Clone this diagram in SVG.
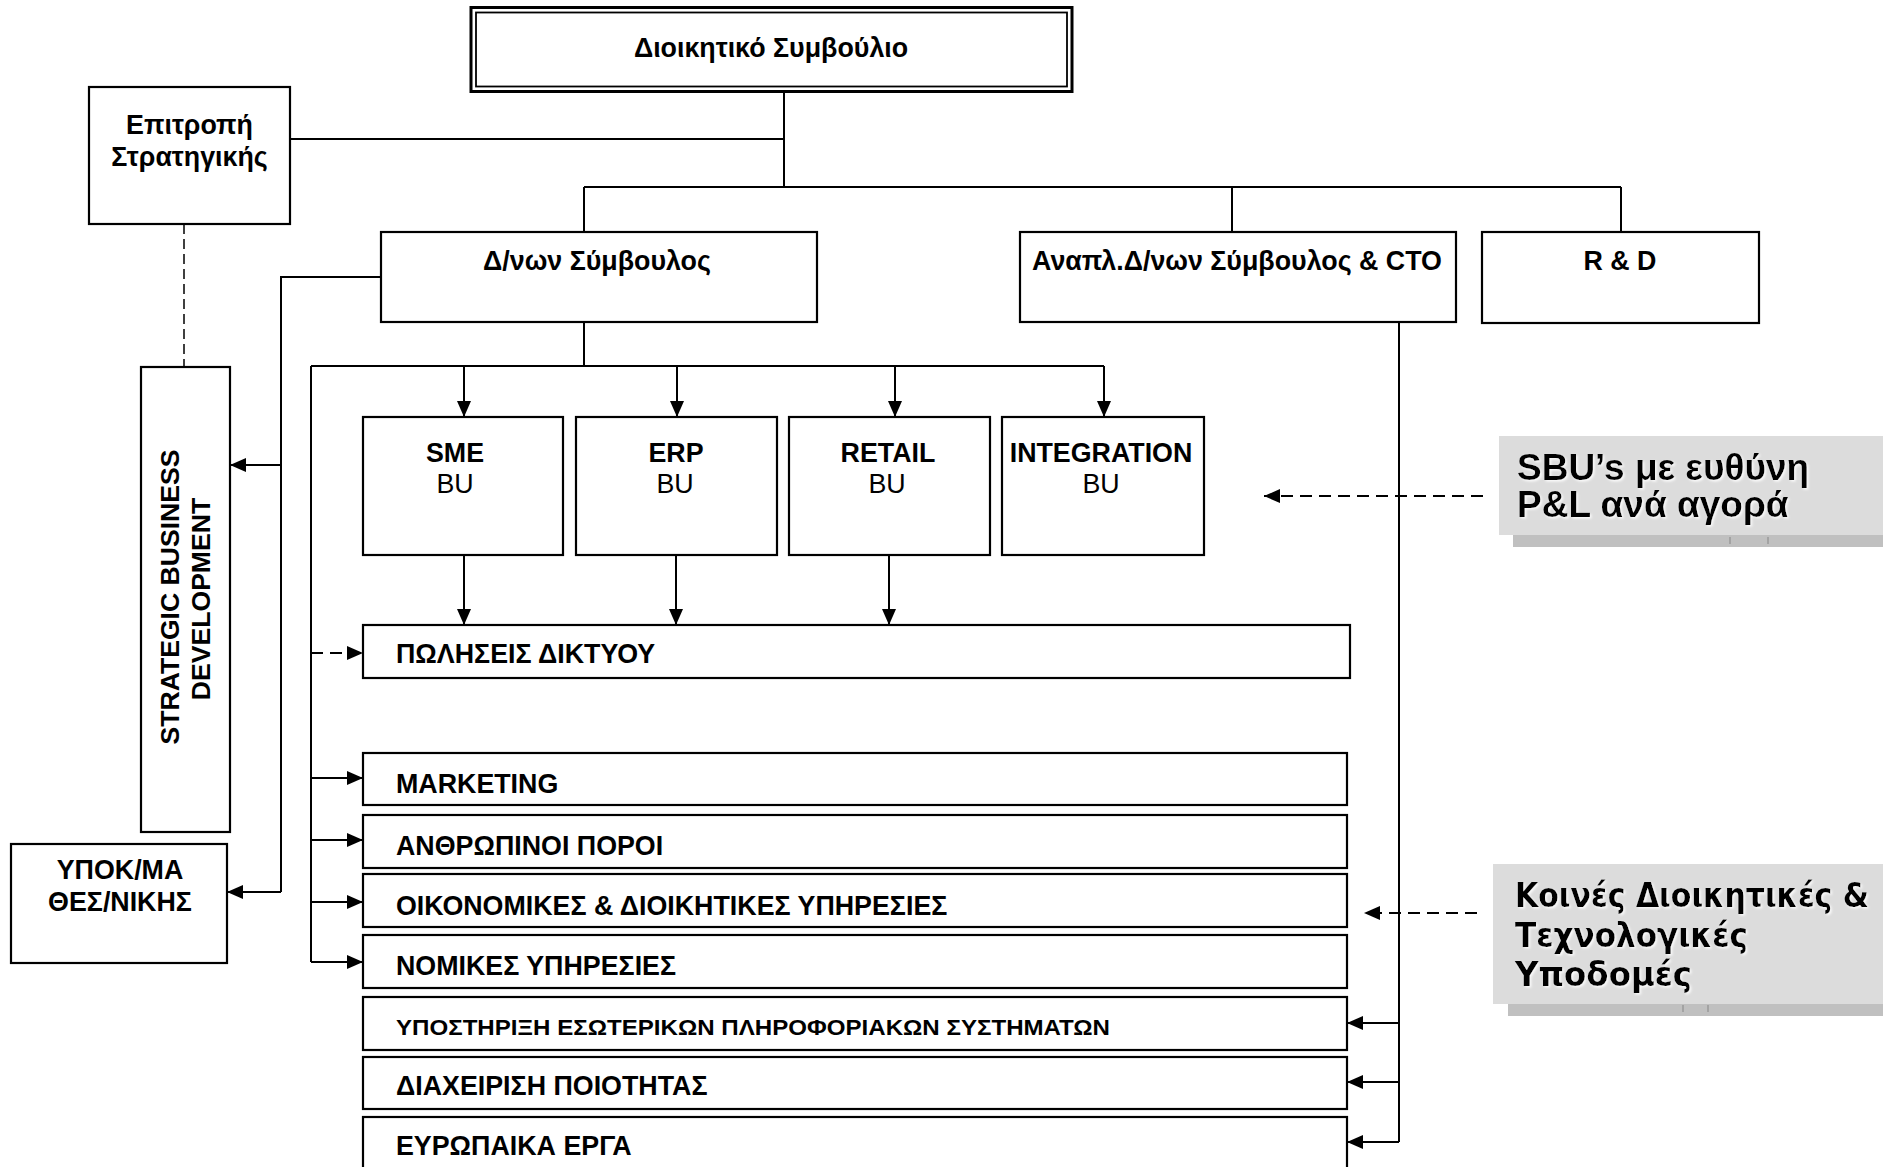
<svg xmlns="http://www.w3.org/2000/svg" width="1883" height="1167" viewBox="0 0 1883 1167">
<defs>
<marker id="ah" viewBox="0 0 16 14" refX="16" refY="7" markerWidth="16" markerHeight="14" markerUnits="userSpaceOnUse" orient="auto"><path d="M0,0 L16,7 L0,14 z" fill="#000"/></marker>
<filter id="glow" x="-5%" y="-20%" width="110%" height="140%"><feDropShadow dx="1.5" dy="1.5" stdDeviation="0.8" flood-color="#ffffff" flood-opacity="0.9"/></filter>
</defs>
<style>
.bx{fill:#fff;stroke:#000;stroke-width:2.2}
.t{font-family:"Liberation Sans",Arial,sans-serif;font-weight:bold;font-size:26.8px;fill:#000}
.n{font-weight:normal}
.m{text-anchor:middle}
.ln{fill:none;stroke:#000;stroke-width:2}
.ar{fill:none;stroke:#000;stroke-width:2;marker-end:url(#ah)}
.da{fill:none;stroke:#000;stroke-width:2;stroke-dasharray:12 7;marker-end:url(#ah)}
.co{fill:#dcdcdc}
.sh{fill:#c0c0c0}
.ct{font-family:"Liberation Sans",Arial,sans-serif;font-weight:bold;font-size:37px;fill:#000;filter:url(#glow)}
.ct2{font-family:"DejaVu Sans Condensed","DejaVu Sans",sans-serif;font-weight:bold;font-size:34px;fill:#000;filter:url(#glow)}
</style>
<rect width="1883" height="1167" fill="#fff"/>

<g id="connectors">
<path class="ln" d="M784,92 V187"/>
<path class="ln" d="M290,139 H784"/>
<path class="ln" d="M584,187 H1621"/>
<path class="ln" d="M584,187 V232"/>
<path class="ln" d="M1232,187 V232"/>
<path class="ln" d="M1621,187 V232"/>
<path class="ln" d="M184,224 V367" stroke-dasharray="10 5" style="stroke-width:1.5"/>
<path class="ln" d="M381,277 H281 V892"/>
<path class="ar" d="M281,465 H230"/>
<path class="ar" d="M281,892 H227"/>
<path class="ln" d="M584,322 V366"/>
<path class="ln" d="M311,366 H1104"/>
<path class="ar" d="M464,366 V417"/>
<path class="ar" d="M677,366 V417"/>
<path class="ar" d="M895,366 V417"/>
<path class="ar" d="M1104,366 V417"/>
<path class="ar" d="M464,555 V625"/>
<path class="ar" d="M676,555 V625"/>
<path class="ar" d="M889,555 V625"/>
<path class="ln" d="M311,366 V962"/>
<path class="da" d="M311,653 H363"/>
<path class="ar" d="M311,778 H363"/>
<path class="ar" d="M311,840 H363"/>
<path class="ar" d="M311,902 H363"/>
<path class="ar" d="M311,962 H363"/>
<path class="ln" d="M1399,322 V1142"/>
<path class="ar" d="M1399,1023 H1347"/>
<path class="ar" d="M1399,1082 H1347"/>
<path class="ar" d="M1399,1142 H1347"/>
<path class="da" d="M1483,496 H1264"/>
<path class="da" d="M1477,913 H1364"/>
</g>

<g id="board">
<rect x="471" y="7.5" width="601" height="84" fill="#fff" stroke="#000" stroke-width="3"/>
<rect x="476" y="12.5" width="591" height="74" fill="none" stroke="#000" stroke-width="1.8"/>
<text class="t m" x="771" y="57">Διοικητικό Συμβούλιο</text>
</g>

<g id="epitropi">
<rect class="bx" x="89" y="87" width="201" height="137"/>
<text class="t m" x="189.5" y="134">Επιτροπή</text>
<text class="t m" x="189.5" y="166">Στρατηγικής</text>
</g>

<g id="ceo">
<rect class="bx" x="381" y="232" width="436" height="90"/>
<text class="t m" x="597" y="270">Δ/νων Σύμβουλος</text>
</g>

<g id="deputy">
<rect class="bx" x="1020" y="232" width="436" height="90"/>
<text class="t m" x="1237" y="270">Αναπλ.Δ/νων Σύμβουλος &amp; CTO</text>
</g>

<g id="rnd">
<rect class="bx" x="1482" y="232" width="277" height="91"/>
<text class="t m" x="1620" y="270">R &amp; D</text>
</g>

<g id="sbd">
<rect class="bx" x="141" y="367" width="89" height="465"/>
<text class="t m" style="font-size:26.6px" transform="translate(179,597) rotate(-90)">STRATEGIC BUSINESS</text>
<text class="t m" style="font-size:26.6px" transform="translate(210,599) rotate(-90)">DEVELOPMENT</text>
</g>

<g id="ypok">
<rect class="bx" x="11" y="844" width="216" height="119"/>
<text class="t m" x="120" y="879">ΥΠΟΚ/ΜΑ</text>
<text class="t m" x="120" y="911">ΘΕΣ/ΝΙΚΗΣ</text>
</g>

<g id="sme">
<rect class="bx" x="363" y="417" width="200" height="138"/>
<text class="t m" x="455" y="462">SME</text>
<text class="t m n" x="455" y="493">BU</text>
</g>
<g id="erp">
<rect class="bx" x="576" y="417" width="201" height="138"/>
<text class="t m" x="676" y="462">ERP</text>
<text class="t m n" x="675" y="493">BU</text>
</g>
<g id="retail">
<rect class="bx" x="789" y="417" width="201" height="138"/>
<text class="t m" x="888" y="462">RETAIL</text>
<text class="t m n" x="887" y="493">BU</text>
</g>
<g id="integration">
<rect class="bx" x="1002" y="417" width="202" height="138"/>
<text class="t m" x="1101" y="462">INTEGRATION</text>
<text class="t m n" x="1101" y="493">BU</text>
</g>

<g id="sales">
<rect class="bx" x="363" y="625" width="987" height="53"/>
<text class="t" x="396" y="663">ΠΩΛΗΣΕΙΣ ΔΙΚΤΥΟΥ</text>
</g>
<g id="marketing">
<rect class="bx" x="363" y="753" width="984" height="52"/>
<text class="t" x="396" y="793">MARKETING</text>
</g>
<g id="hr">
<rect class="bx" x="363" y="815" width="984" height="53"/>
<text class="t" x="396" y="855">ΑΝΘΡΩΠΙΝΟΙ ΠΟΡΟΙ</text>
</g>
<g id="finance">
<rect class="bx" x="363" y="874" width="984" height="53"/>
<text class="t" x="396" y="915">ΟΙΚΟΝΟΜΙΚΕΣ &amp; ΔΙΟΙΚΗΤΙΚΕΣ ΥΠΗΡΕΣΙΕΣ</text>
</g>
<g id="legal">
<rect class="bx" x="363" y="935" width="984" height="53"/>
<text class="t" x="396" y="975">ΝΟΜΙΚΕΣ ΥΠΗΡΕΣΙΕΣ</text>
</g>
<g id="itsupport">
<rect class="bx" x="363" y="997" width="984" height="53"/>
<text class="t" style="font-size:22.5px" x="396" y="1035" textLength="714" lengthAdjust="spacingAndGlyphs">ΥΠΟΣΤΗΡΙΞΗ ΕΣΩΤΕΡΙΚΩΝ ΠΛΗΡΟΦΟΡΙΑΚΩΝ ΣΥΣΤΗΜΑΤΩΝ</text>
</g>
<g id="quality">
<rect class="bx" x="363" y="1057" width="984" height="52"/>
<text class="t" x="396" y="1095">ΔΙΑΧΕΙΡΙΣΗ ΠΟΙΟΤΗΤΑΣ</text>
</g>
<g id="eu">
<rect class="bx" x="363" y="1117" width="984" height="70"/>
<text class="t" x="396" y="1155">ΕΥΡΩΠΑΙΚΑ ΕΡΓΑ</text>
</g>

<g id="callout-sbu">
<rect class="sh" x="1513" y="450" width="380" height="97"/>
<rect class="co" x="1499" y="436" width="390" height="99"/>
<path d="M1730,537 V544 M1768,537 V544" stroke="#999" stroke-width="1.5"/>
<text class="ct" x="1517" y="480">SBU’s με ευθύνη</text>
<text class="ct" x="1517" y="517">P&amp;L ανά αγορά</text>
</g>

<g id="callout-infra">
<rect class="sh" x="1508" y="878" width="380" height="138"/>
<rect class="co" x="1493" y="864" width="395" height="140"/>
<path d="M1683,1005 V1012 M1708,1005 V1012" stroke="#999" stroke-width="1.5"/>
<text class="ct2" x="1515" y="907" textLength="354" lengthAdjust="spacingAndGlyphs">Κοινές Διοικητικές &amp;</text>
<text class="ct2" x="1515" y="947" textLength="233" lengthAdjust="spacingAndGlyphs">Τεχνολογικές</text>
<text class="ct2" x="1515" y="986" textLength="177" lengthAdjust="spacingAndGlyphs">Υποδομές</text>
</g>
</svg>
